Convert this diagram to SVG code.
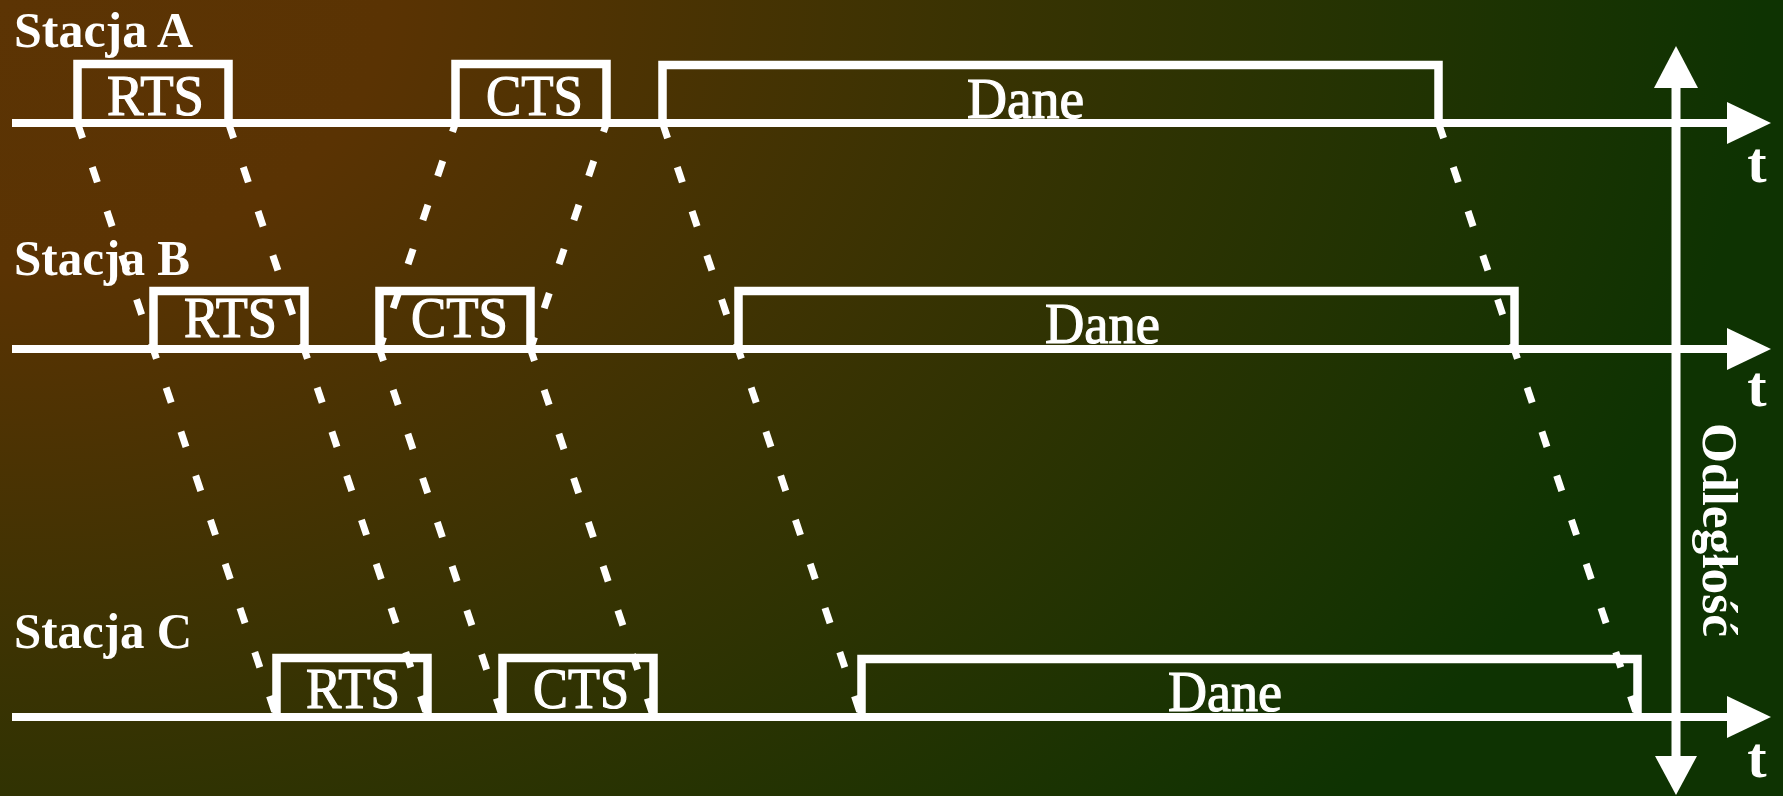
<svg xmlns="http://www.w3.org/2000/svg" width="1783" height="796" viewBox="0 0 1783 796">
  <defs>
    <radialGradient id="bg" gradientUnits="userSpaceOnUse" cx="0" cy="0" r="1760" fx="0" fy="0" gradientTransform="scale(1,0.7)">
      <stop offset="0" stop-color="#5c3404"/>
      <stop offset="0.22" stop-color="#5a3303"/>
      <stop offset="1" stop-color="#0e3302"/>
    </radialGradient>
    <style>
      .axis { stroke: #fff; stroke-width: 8; fill: none; }
      .vaxis { stroke: #fff; stroke-width: 9; fill: none; }
      .head { fill: #fff; }
      .frame { stroke: #fff; stroke-width: 8.5; fill: none; stroke-linejoin: miter; }
      .sig { stroke: #fff; stroke-width: 7; fill: none; stroke-dasharray: 16 30.5; }
      .sigb { stroke: #fff; stroke-width: 7; fill: none; stroke-dasharray: 16 30.5; stroke-dashoffset: 3.5; }
      .lbl { font-family: "Liberation Serif", "Times New Roman", serif; font-weight: bold; font-size: 50px; fill: #fff; }
      .ftxt { font-family: "Liberation Serif", "Times New Roman", serif; font-size: 57px; fill: #fff; stroke: #fff; stroke-width: 1.2; }
      .tl { font-family: "Liberation Serif", "Times New Roman", serif; font-weight: bold; font-size: 58px; fill: #fff; text-anchor: middle; }
    </style>
  </defs>

  <rect x="0" y="0" width="1783" height="796" fill="url(#bg)"/>

  <g id="axes">
    <line class="axis" x1="12" y1="123" x2="1730" y2="123"/>
    <polygon class="head" points="1727,102 1771,123 1727,144"/>
    <line class="axis" x1="12" y1="349" x2="1730" y2="349"/>
    <polygon class="head" points="1727,328 1771,349 1727,370"/>
    <line class="axis" x1="12" y1="717" x2="1730" y2="717"/>
    <polygon class="head" points="1727,696 1771,717 1727,738"/>
    <line class="vaxis" x1="1676" y1="86" x2="1676" y2="758"/>
    <polygon class="head" points="1654,88 1676,46 1698,88"/>
    <polygon class="head" points="1655,756 1676,795 1697,756"/>
    <text class="tl" x="1757" y="182">t</text>
    <text class="tl" x="1757" y="406">t</text>
    <text class="tl" x="1757" y="777">t</text>
    <text class="lbl" transform="translate(1703,423) rotate(90)" textLength="214" lengthAdjust="spacingAndGlyphs">Odległość</text>
  </g>

  <g id="connectors">
    <!-- RTS from A through B to C -->
    <line class="sig" x1="77.5" y1="123" x2="276.5" y2="717"/>
    <line class="sig" x1="228.5" y1="123" x2="427.5" y2="717"/>
    <!-- CTS from B up to A and down to C -->
    <line class="sigb" x1="379.5" y1="349" x2="455.5" y2="123"/>
    <line class="sigb" x1="530.5" y1="349" x2="606.5" y2="123"/>
    <line class="sigb" x1="379.5" y1="349" x2="502.5" y2="717"/>
    <line class="sigb" x1="530.5" y1="349" x2="653.5" y2="717"/>
    <!-- Dane from A through B to C -->
    <line class="sig" x1="662.5" y1="123" x2="861.5" y2="717"/>
    <line class="sig" x1="1438.5" y1="123" x2="1637.5" y2="717"/>
  </g>

  <g id="station-a">
    <text class="lbl" x="14" y="47" textLength="179" lengthAdjust="spacingAndGlyphs">Stacja A</text>
  </g>
  <g id="rts-a">
    <path class="frame" d="M77.5,123 V64 H228.5 V123"/>
    <text class="ftxt" x="107" y="115" textLength="97" lengthAdjust="spacingAndGlyphs">RTS</text>
  </g>
  <g id="cts-a">
    <path class="frame" d="M455.5,123 V64 H606.5 V123"/>
    <text class="ftxt" x="486" y="115" textLength="97" lengthAdjust="spacingAndGlyphs">CTS</text>
  </g>
  <g id="dane-a">
    <path class="frame" d="M662.5,123 V65 H1438.5 V123"/>
    <text class="ftxt" x="967" y="118" textLength="117" lengthAdjust="spacingAndGlyphs">Dane</text>
  </g>

  <g id="station-b">
    <text class="lbl" x="14" y="275" textLength="176" lengthAdjust="spacingAndGlyphs">Stacja B</text>
  </g>
  <g id="rts-b">
    <path class="frame" d="M153.5,349 V291 H304.5 V349"/>
    <text class="ftxt" x="184" y="337" textLength="93" lengthAdjust="spacingAndGlyphs">RTS</text>
  </g>
  <g id="cts-b">
    <path class="frame" d="M379.5,349 V291 H530.5 V349"/>
    <text class="ftxt" x="411" y="337" textLength="97" lengthAdjust="spacingAndGlyphs">CTS</text>
  </g>
  <g id="dane-b">
    <path class="frame" d="M738.5,349 V291 H1514.5 V349"/>
    <text class="ftxt" x="1045" y="343" textLength="115" lengthAdjust="spacingAndGlyphs">Dane</text>
  </g>

  <g id="station-c">
    <text class="lbl" x="14" y="648" textLength="178" lengthAdjust="spacingAndGlyphs">Stacja C</text>
  </g>
  <g id="rts-c">
    <path class="frame" d="M276.5,717 V658 H427.5 V717"/>
    <text class="ftxt" x="306" y="708" textLength="94" lengthAdjust="spacingAndGlyphs">RTS</text>
  </g>
  <g id="cts-c">
    <path class="frame" d="M502.5,717 V658 H653.5 V717"/>
    <text class="ftxt" x="533" y="708" textLength="96" lengthAdjust="spacingAndGlyphs">CTS</text>
  </g>
  <g id="dane-c">
    <path class="frame" d="M861.5,717 V659 H1637.5 V717"/>
    <text class="ftxt" x="1168" y="711" textLength="114" lengthAdjust="spacingAndGlyphs">Dane</text>
  </g>
</svg>
